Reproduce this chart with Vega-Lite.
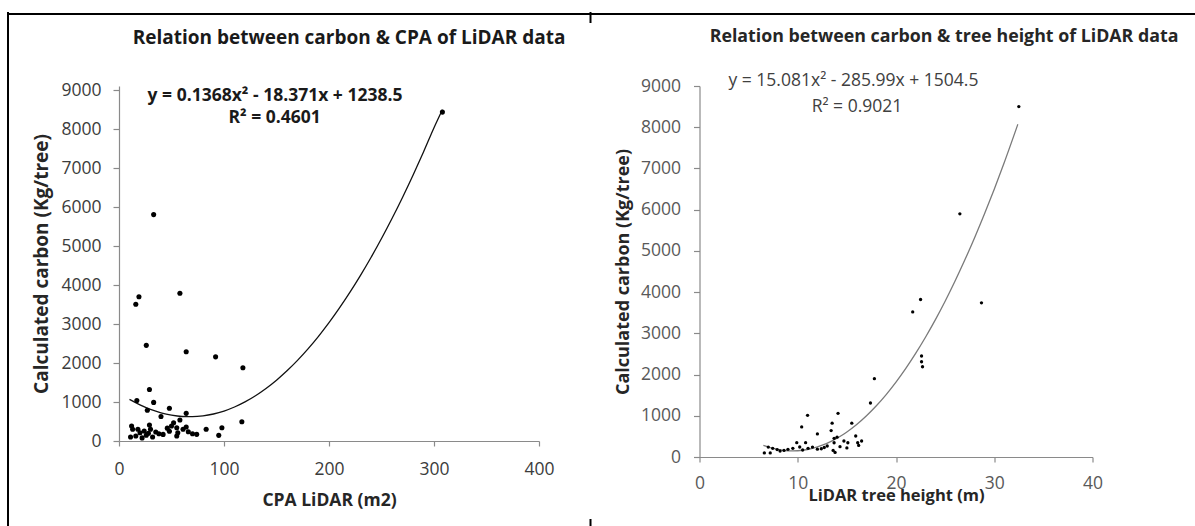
{
  "$schema": "https://vega.github.io/schema/vega-lite/v6.json",
  "padding": {"left": 6, "top": 11, "right": 0, "bottom": 0},
  "background": "white",
  "bounds": "flush",
  "spacing": 160.5,
  "config": {
    "view": {"stroke": null},
    "font": "Open Sans",
    "axis": {
      "grid": false,
      "domainColor": "#8a8a8a",
      "tickColor": "#8a8a8a",
      "domainWidth": 1.2,
      "tickWidth": 1.2,
      "format": "d",
      "labelFont": "Open Sans",
      "labelFontSize": 17.5,
      "labelColor": "#3c3c3c",
      "labelOverlap": false,
      "labelFlush": false,
      "titleFont": "Open Sans",
      "titleFontWeight": "bold",
      "titleColor": "#262626"
    }
  },
  "datasets": {
    "cpa": [
      {"cpa": 308, "carbon": 8440}, {"cpa": 33, "carbon": 5810}, {"cpa": 19, "carbon": 3700},
      {"cpa": 16, "carbon": 3510}, {"cpa": 58, "carbon": 3790}, {"cpa": 26, "carbon": 2455},
      {"cpa": 64, "carbon": 2290}, {"cpa": 92, "carbon": 2160}, {"cpa": 118, "carbon": 1880},
      {"cpa": 29, "carbon": 1320}, {"cpa": 17, "carbon": 1040}, {"cpa": 33, "carbon": 990},
      {"cpa": 27, "carbon": 790}, {"cpa": 48, "carbon": 840}, {"cpa": 40, "carbon": 630},
      {"cpa": 64, "carbon": 710}, {"cpa": 117, "carbon": 495}, {"cpa": 98, "carbon": 340},
      {"cpa": 95, "carbon": 145}, {"cpa": 83, "carbon": 300},
      {"cpa": 12, "carbon": 385}, {"cpa": 13, "carbon": 300}, {"cpa": 11, "carbon": 103},
      {"cpa": 16, "carbon": 128}, {"cpa": 20, "carbon": 213}, {"cpa": 24, "carbon": 257},
      {"cpa": 29, "carbon": 411}, {"cpa": 30, "carbon": 300}, {"cpa": 32, "carbon": 103},
      {"cpa": 35, "carbon": 231}, {"cpa": 38, "carbon": 187}, {"cpa": 26, "carbon": 150},
      {"cpa": 22, "carbon": 80}, {"cpa": 50, "carbon": 385}, {"cpa": 52, "carbon": 470},
      {"cpa": 55, "carbon": 341}, {"cpa": 58, "carbon": 539}, {"cpa": 56, "carbon": 213},
      {"cpa": 55, "carbon": 128}, {"cpa": 61, "carbon": 300}, {"cpa": 64, "carbon": 359},
      {"cpa": 66, "carbon": 239}, {"cpa": 70, "carbon": 187}, {"cpa": 74, "carbon": 171},
      {"cpa": 46, "carbon": 330}, {"cpa": 48, "carbon": 250}, {"cpa": 42, "carbon": 170},
      {"cpa": 28, "carbon": 200}, {"cpa": 18, "carbon": 300}
    ],
    "cpaFit": [
      {"cpa": 10, "carbon": 1068}, {"cpa": 20, "carbon": 926}, {"cpa": 30, "carbon": 810},
      {"cpa": 40, "carbon": 722}, {"cpa": 50, "carbon": 662}, {"cpa": 60, "carbon": 629},
      {"cpa": 70, "carbon": 623}, {"cpa": 80, "carbon": 644}, {"cpa": 90, "carbon": 693},
      {"cpa": 100, "carbon": 769}, {"cpa": 110, "carbon": 873}, {"cpa": 120, "carbon": 1004},
      {"cpa": 130, "carbon": 1162}, {"cpa": 140, "carbon": 1348}, {"cpa": 150, "carbon": 1561},
      {"cpa": 160, "carbon": 1801}, {"cpa": 170, "carbon": 2069}, {"cpa": 180, "carbon": 2364},
      {"cpa": 190, "carbon": 2686}, {"cpa": 200, "carbon": 3036}, {"cpa": 210, "carbon": 3414},
      {"cpa": 220, "carbon": 3818}, {"cpa": 230, "carbon": 4250}, {"cpa": 240, "carbon": 4709},
      {"cpa": 250, "carbon": 5196}, {"cpa": 260, "carbon": 5710}, {"cpa": 270, "carbon": 6251},
      {"cpa": 280, "carbon": 6820}, {"cpa": 290, "carbon": 7416}, {"cpa": 300, "carbon": 8039},
      {"cpa": 308, "carbon": 8500}
    ],
    "cpaText": [
      {"cpa": 219.05, "carbon": 10331, "label": "Relation between carbon & CPA of LiDAR data", "kind": "title"},
      {"cpa": 148.6, "carbon": 8854, "label": "y = 0.1368x² - 18.371x + 1238.5", "kind": "eq"},
      {"cpa": 148.2, "carbon": 8297, "label": "R² = 0.4601", "kind": "eq"}
    ],
    "frameV": [
      {"cpa": -105.71, "carbon": 10983.4, "carbon_end": -2181.3},
      {"cpa": 449.05, "carbon": 10983.4, "carbon_end": 10752.4},
      {"cpa": 449.05, "carbon": -2027.3, "carbon_end": -2181.3}
    ],
    "frameTop": [
      {"cpa": -106.66, "cpa_end": 1024.76, "carbon": 10983.4, "carbon_end": 10932}
    ],
    "height": [
      {"height": 32.5, "carbon": 8500}, {"height": 26.5, "carbon": 5900}, {"height": 28.7, "carbon": 3740},
      {"height": 22.5, "carbon": 3820}, {"height": 21.7, "carbon": 3520}, {"height": 22.6, "carbon": 2450},
      {"height": 22.6, "carbon": 2310}, {"height": 22.7, "carbon": 2190}, {"height": 17.8, "carbon": 1900},
      {"height": 17.4, "carbon": 1310}, {"height": 11.0, "carbon": 1010}, {"height": 14.1, "carbon": 1060},
      {"height": 10.4, "carbon": 730}, {"height": 13.5, "carbon": 820}, {"height": 15.5, "carbon": 820},
      {"height": 12.0, "carbon": 560}, {"height": 13.4, "carbon": 640}, {"height": 15.9, "carbon": 510},
      {"height": 14.0, "carbon": 480},
      {"height": 6.6, "carbon": 100}, {"height": 7.2, "carbon": 100}, {"height": 7.0, "carbon": 240},
      {"height": 7.45, "carbon": 210}, {"height": 7.9, "carbon": 180}, {"height": 8.2, "carbon": 146},
      {"height": 8.6, "carbon": 160}, {"height": 9.0, "carbon": 187}, {"height": 9.5, "carbon": 211},
      {"height": 9.9, "carbon": 347}, {"height": 10.2, "carbon": 243}, {"height": 10.8, "carbon": 347},
      {"height": 11.05, "carbon": 210}, {"height": 11.5, "carbon": 240}, {"height": 12.0, "carbon": 190},
      {"height": 12.4, "carbon": 200}, {"height": 13.0, "carbon": 267}, {"height": 13.7, "carbon": 454},
      {"height": 13.7, "carbon": 345}, {"height": 13.6, "carbon": 160}, {"height": 13.8, "carbon": 110},
      {"height": 14.7, "carbon": 388}, {"height": 15.1, "carbon": 345}, {"height": 16.1, "carbon": 345},
      {"height": 16.5, "carbon": 388}, {"height": 14.3, "carbon": 250}, {"height": 15.0, "carbon": 220},
      {"height": 16.2, "carbon": 280}, {"height": 12.7, "carbon": 230}, {"height": 10.5, "carbon": 170}
    ],
    "heightFit": [
      {"height": 6.5, "carbon": 283}, {"height": 7.5, "carbon": 208}, {"height": 8.5, "carbon": 163},
      {"height": 9.5, "carbon": 149}, {"height": 10.5, "carbon": 164}, {"height": 11.5, "carbon": 210},
      {"height": 12.5, "carbon": 286}, {"height": 13.5, "carbon": 392}, {"height": 14.5, "carbon": 528},
      {"height": 15, "carbon": 608}, {"height": 16, "carbon": 789}, {"height": 17, "carbon": 1001},
      {"height": 18, "carbon": 1243}, {"height": 19, "carbon": 1515}, {"height": 20, "carbon": 1817},
      {"height": 21, "carbon": 2149}, {"height": 22, "carbon": 2512}, {"height": 23, "carbon": 2905},
      {"height": 24, "carbon": 3327}, {"height": 25, "carbon": 3780}, {"height": 26, "carbon": 4264},
      {"height": 27, "carbon": 4777}, {"height": 28, "carbon": 5320}, {"height": 29, "carbon": 5894},
      {"height": 30, "carbon": 6498}, {"height": 31, "carbon": 7132}, {"height": 32.4, "carbon": 8070}
    ],
    "heightTitle": [
      {"height": 24.89, "carbon": 10177, "label": "Relation between carbon & tree height of LiDAR data"}
    ],
    "heightText": [
      {"height": 15.67, "carbon": 9121, "label": "y = 15.081x² - 285.99x + 1504.5"},
      {"height": 16.03, "carbon": 8498, "label": "R² = 0.9021"}
    ]
  },
  "hconcat": [
    {
      "width": 420,
      "height": 355,
      "encoding": {
        "x": {
          "field": "cpa",
          "type": "quantitative",
          "scale": {"domain": [0, 400], "nice": false, "zero": false},
          "axis": {
            "values": [0, 100, 200, 300, 400],
            "tickSize": 5,
            "labelPadding": 14,
            "title": "CPA LiDAR (m2)",
            "titleFontSize": 17.5,
            "titlePadding": 14
          }
        },
        "y": {
          "field": "carbon",
          "type": "quantitative",
          "scale": {"domain": [0, 9110], "nice": false, "zero": false},
          "axis": {
            "values": [0, 1000, 2000, 3000, 4000, 5000, 6000, 7000, 8000, 9000],
            "tickSize": 6,
            "labelPadding": 12,
            "title": "Calculated carbon (Kg/tree)",
            "titleFontSize": 19,
            "titlePadding": 9
          }
        }
      },
      "layer": [
        {
          "data": {"name": "frameV"},
          "mark": {"type": "rule", "color": "#000000", "strokeWidth": 2, "strokeCap": "square"},
          "encoding": {"y2": {"field": "carbon_end"}}
        },
        {
          "data": {"name": "frameTop"},
          "mark": {"type": "rect", "color": "#000000", "opacity": 1},
          "encoding": {"x2": {"field": "cpa_end"}, "y2": {"field": "carbon_end"}}
        },
        {
          "data": {"name": "cpaFit"},
          "mark": {"type": "line", "color": "#111111", "strokeWidth": 1.3, "interpolate": "monotone"},
          "encoding": {}
        },
        {
          "data": {"name": "cpa"},
          "mark": {"type": "circle", "color": "#000000", "opacity": 1, "size": 26},
          "encoding": {}
        },
        {
          "data": {"name": "cpaText"},
          "mark": {"type": "text", "font": "Open Sans", "fontWeight": "bold", "color": "#1a1a1a", "align": "center", "baseline": "middle"},
          "encoding": {
            "text": {"field": "label"},
            "size": {
              "field": "kind",
              "type": "nominal",
              "scale": {"domain": ["title", "eq"], "range": [19, 17.5]},
              "legend": null
            }
          }
        }
      ]
    },
    {
      "width": 393,
      "height": 371,
      "encoding": {
        "x": {
          "field": "height",
          "type": "quantitative",
          "scale": {"domain": [0, 40], "nice": false, "zero": false},
          "axis": {
            "values": [0, 10, 20, 30, 40],
            "tickSize": 5,
            "labelPadding": 12,
            "labelColor": "#595959",
            "title": "LiDAR tree height (m)",
            "titleFontSize": 16.5,
            "titlePadding": -4
          }
        },
        "y": {
          "field": "carbon",
          "type": "quantitative",
          "scale": {"domain": [0, 9000], "nice": false, "zero": false},
          "axis": {
            "values": [0, 1000, 2000, 3000, 4000, 5000, 6000, 7000, 8000, 9000],
            "tickSize": 6,
            "labelPadding": 13,
            "labelColor": "#595959",
            "title": "Calculated carbon (Kg/tree)",
            "titleFontSize": 18,
            "titlePadding": 8
          }
        }
      },
      "layer": [
        {
          "data": {"name": "heightFit"},
          "mark": {"type": "line", "color": "#7a7a7a", "strokeWidth": 1.3, "interpolate": "monotone"},
          "encoding": {}
        },
        {
          "data": {"name": "height"},
          "mark": {"type": "circle", "color": "#000000", "opacity": 1, "size": 11},
          "encoding": {}
        },
        {
          "data": {"name": "heightTitle"},
          "mark": {"type": "text", "font": "Open Sans", "fontWeight": "bold", "fontSize": 17.8, "color": "#262626", "align": "center", "baseline": "middle"},
          "encoding": {"text": {"field": "label"}}
        },
        {
          "data": {"name": "heightText"},
          "mark": {"type": "text", "font": "Open Sans", "fontSize": 17.5, "color": "#404040", "align": "center", "baseline": "middle"},
          "encoding": {"text": {"field": "label"}}
        }
      ]
    }
  ]
}
